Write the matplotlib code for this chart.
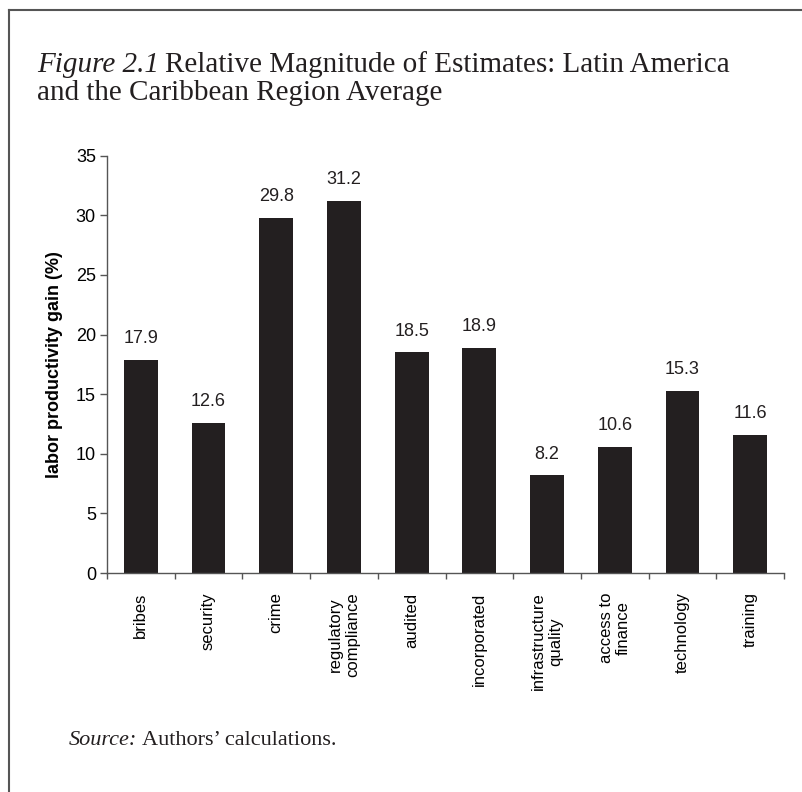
import matplotlib.pyplot as plt
import numpy as np
from matplotlib.lines import Line2D

categories = ["bribes", "security", "crime", "regulatory\ncompliance", "audited",
              "incorporated", "infrastructure\nquality", "access to\nfinance",
              "technology", "training"]
values = [17.9, 12.6, 29.8, 31.2, 18.5, 18.9, 8.2, 10.6, 15.3, 11.6]
yticks = [0, 5, 10, 15, 20, 25, 30, 35]

plt.rcParams['font.family'] = ['Liberation Sans', 'DejaVu Sans']

fig = plt.figure(figsize=(8.02, 7.92), dpi=100)
ax = fig.add_axes([0.1334, 0.2765, 0.8442, 0.527])

x = np.arange(len(categories))
ax.bar(x, values, width=0.5, color='#231f20', zorder=2)

for xi, v in zip(x, values):
    ax.annotate(f"{v:.1f}", (xi, v), xytext=(0, 9), textcoords='offset points',
                ha='center', va='bottom', fontsize=13, color='#231f20')

ax.set_xlim(-0.5, len(categories) - 0.5)
ax.set_ylim(0, 35)
ax.set_yticks(yticks)
ax.tick_params(axis='y', labelsize=13, length=5, width=1, color='#555555', pad=3)

# ticks at category boundaries, labels at centers
ax.set_xticks(np.arange(len(categories) + 1) - 0.5)
ax.set_xticklabels([])
ax.tick_params(axis='x', which='major', length=4.5, width=1, color='#555555')
ax.set_xticks(x, minor=True)
ax.set_xticklabels(categories, minor=True, rotation=90, fontsize=12,
                   ha='center', va='top', multialignment='center')
ax.tick_params(axis='x', which='minor', length=0, pad=14)

ax.set_ylabel("labor productivity gain (%)", fontsize=13, fontweight='bold', labelpad=9)

for s in ['top', 'right']:
    ax.spines[s].set_visible(False)
for s in ['left', 'bottom']:
    ax.spines[s].set_color('#555555')
    ax.spines[s].set_linewidth(1)

# title with italic lead-in
serif = ['Liberation Serif', 'DejaVu Serif']
t1 = fig.text(37 / 802, 1 - 72 / 792, "Figure 2.1", fontsize=21, style='italic',
              family=serif, va='baseline', color='#231f20')
fig.canvas.draw()
r = fig.canvas.get_renderer()
bb = t1.get_window_extent(r)
fig.text((bb.x1 + 6) / 802, 1 - 72 / 792, "Relative Magnitude of Estimates: Latin America",
         fontsize=21, family=serif, va='baseline', color='#231f20')
fig.text(37 / 802, 1 - 100 / 792, "and the Caribbean Region Average",
         fontsize=21, family=serif, va='baseline', color='#231f20')

s1 = fig.text(69 / 802, 1 - 745 / 792, "Source:", fontsize=16, style='italic',
              family=serif, va='baseline', color='#231f20')
fig.canvas.draw()
bb = s1.get_window_extent(r)
fig.text((bb.x1 + 5) / 802, 1 - 745 / 792, "Authors\u2019 calculations.",
         fontsize=16, family=serif, va='baseline', color='#231f20')

# page frame: top and left edges
fig.add_artist(Line2D([9 / 802, 1], [1 - 10 / 792, 1 - 10 / 792], transform=fig.transFigure,
                      color='#555555', lw=1.5))
fig.add_artist(Line2D([9 / 802, 9 / 802], [0, 1 - 10 / 792], transform=fig.transFigure,
                      color='#555555', lw=1.5))

fig.savefig("out.png", dpi=100)
